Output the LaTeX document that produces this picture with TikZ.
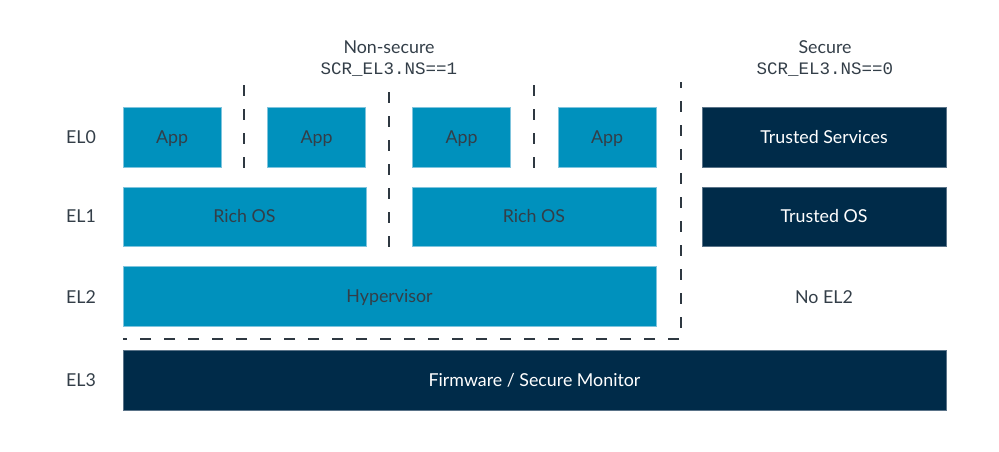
\documentclass[tikz,border=0pt]{standalone}
\usepackage{fontspec}
\setmainfont{Lato}
\setmonofont{Liberation Mono}
\definecolor{armblue}{HTML}{0091BD}
\definecolor{armnavy}{HTML}{002B49}
\definecolor{armedge}{HTML}{7FC4DD}
\definecolor{navyedge}{HTML}{5A7388}
\definecolor{txt}{HTML}{333E48}
\definecolor{dashc}{HTML}{2E3841}
\begin{document}
\begin{tikzpicture}[x=1pt,y=-1pt,
  every node/.style={font=\fontsize{17.8}{20}\selectfont, text=txt, inner sep=0pt, text height=12.8pt, text depth=0pt},
  nsbox/.style={rectangle, fill=armblue, draw=armedge, line width=0.8pt, minimum height=60pt},
  sbox/.style={rectangle, fill=armnavy, draw=navyedge, line width=0.8pt, minimum height=60pt, text=white},
  lbl/.style={},
  hdr/.style={},
  code/.style={font=\fontsize{17.5}{20}\selectfont\ttfamily, text height=11pt},
  sep/.style={draw=dashc, line width=1.1pt, dash pattern=on 11pt off 13pt}
]
\useasboundingbox (0,0) rectangle (999,451);

% headers
\node[hdr] (nshdr) at (389,47) {Non-secure};
\node[code] (nscode) at (389,69) {SCR\_EL3.NS==1};
\node[hdr] (shdr) at (825,47) {Secure};
\node[code] (scode) at (825,69) {SCR\_EL3.NS==0};

% EL labels
\node[lbl] (el0) at (81,137) {EL0};
\node[lbl] (el1) at (81,216.5) {EL1};
\node[lbl] (el2) at (81,297) {EL2};
\node[lbl] (el3) at (81,380) {EL3};

% EL0
\node[nsbox, minimum width=98pt] (app1) at (172,137) {App};
\node[nsbox, minimum width=98pt] (app2) at (316.5,137) {App};
\node[nsbox, minimum width=98pt] (app3) at (461.5,137) {App};
\node[nsbox, minimum width=98pt] (app4) at (607,137) {App};
\node[sbox, minimum width=244pt] (tsvc) at (824,137) {Trusted Services};

% EL1
\node[nsbox, minimum width=243pt, minimum height=59pt] (ros1) at (244.5,216.5) {Rich OS};
\node[nsbox, minimum width=244pt, minimum height=59pt] (ros2) at (534,216.5) {Rich OS};
\node[sbox, minimum width=244pt, minimum height=59pt] (tos) at (824,216.5) {Trusted OS};

% EL2
\node[nsbox, minimum width=533pt] (hyp) at (389.5,296) {Hypervisor};
\node (noel2) at (824,297) {No EL2};

% EL3
\node[sbox, minimum width=823pt] (fw) at (534.5,380) {Firmware / Secure Monitor};

% dashed separators
\draw[sep, dash phase=5pt] (681,82) -- (681,339) -- (123,339);
\draw[sep] (244,85) -- (244,168);
\draw[sep] (389,92) -- (389,247);
\draw[sep] (534,85) -- (534,168);
\end{tikzpicture}
\end{document}
